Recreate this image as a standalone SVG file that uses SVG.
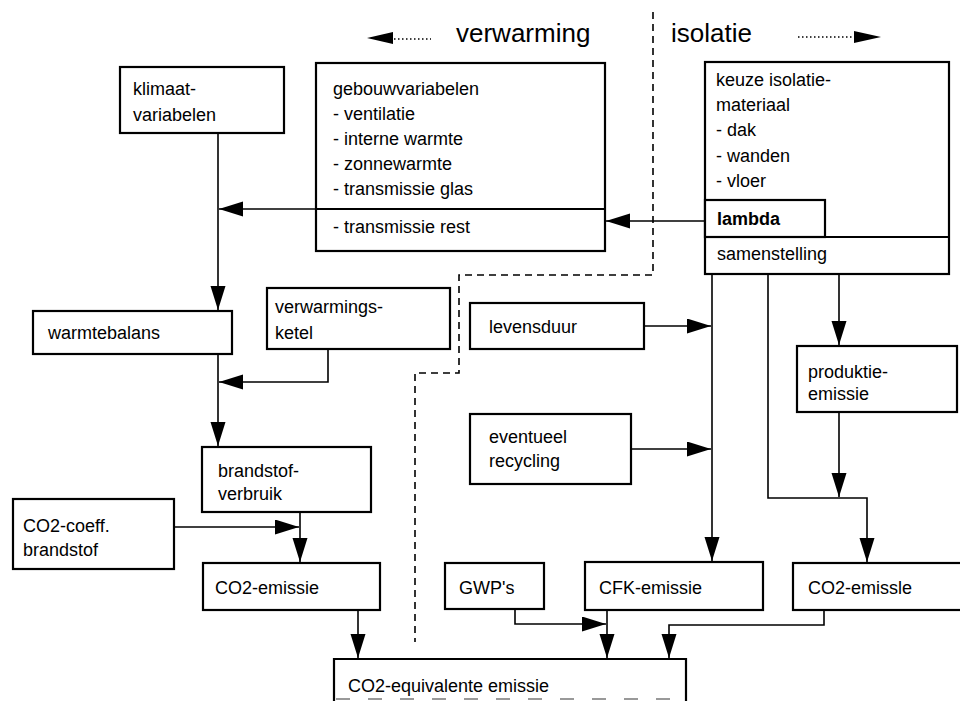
<svg xmlns="http://www.w3.org/2000/svg" width="960" height="701" viewBox="0 0 960 701">
<style>
.box{fill:#fff;stroke:#000;stroke-width:2.2}
.t{font-family:"Liberation Sans",Arial,sans-serif;font-size:18px;fill:#000}
.b{font-weight:bold}
.title{font-family:"Liberation Sans",Arial,sans-serif;font-size:26px;fill:#000}
.c{fill:none;stroke:#000;stroke-width:1.6}
.dash{fill:none;stroke:#000;stroke-width:1.6;stroke-dasharray:7 5}
.dots{fill:none;stroke:#000;stroke-width:1.5;stroke-dasharray:1.5 2.5}
</style>
<defs>
<marker id="ah" markerUnits="userSpaceOnUse" markerWidth="26" markerHeight="16" refX="24" refY="7.5" orient="auto">
<path d="M0,0 L24,7.5 L0,15 Z" fill="#000"/>
</marker>
</defs>
<rect width="960" height="701" fill="#fff"/>

<g id="titles">
<path d="M367,38 L393,32 L393,44 Z" fill="#000"/>
<line class="dots" x1="394" y1="39" x2="431" y2="39"/>
<text class="title" x="456" y="42">verwarming</text>
<text class="title" x="671" y="42">isolatie</text>
<line class="dots" x1="798" y1="37" x2="854" y2="37"/>
<path d="M881,37 L854,31 L854,43 Z" fill="#000"/>
</g>

<g id="divider">
<path class="dash" d="M653,12 V275 H459 V373 H415 V642"/>
</g>

<g id="klimaat">
<rect class="box" x="120" y="67" width="164" height="66"/>
<text class="t" x="133" y="95">klimaat-</text>
<text class="t" x="133" y="121">variabelen</text>
</g>

<g id="gebouw">
<rect class="box" x="316" y="63" width="289" height="188"/>
<line class="box" x1="316" y1="209" x2="605" y2="209"/>
<text class="t" x="333" y="95">gebouwvariabelen</text>
<text class="t" x="333" y="120">- ventilatie</text>
<text class="t" x="333" y="145">- interne warmte</text>
<text class="t" x="333" y="170">- zonnewarmte</text>
<text class="t" x="333" y="195">- transmissie glas</text>
<text class="t" x="333" y="233">- transmissie rest</text>
</g>

<g id="keuze">
<rect class="box" x="705" y="62" width="244" height="212"/>
<rect class="box" x="705" y="200" width="120" height="37"/>
<line class="box" x1="705" y1="237" x2="949" y2="237"/>
<text class="t" x="716" y="86">keuze isolatie-</text>
<text class="t" x="716" y="111">materiaal</text>
<text class="t" x="716" y="136">- dak</text>
<text class="t" x="716" y="162">- wanden</text>
<text class="t" x="716" y="187">- vloer</text>
<text class="t b" x="717" y="225">lambda</text>
<text class="t" x="717" y="260">samenstelling</text>
</g>

<g id="warmtebalans">
<rect class="box" x="33" y="311" width="199" height="43"/>
<text class="t" x="48" y="339">warmtebalans</text>
</g>

<g id="ketel">
<rect class="box" x="267" y="288" width="183" height="61"/>
<text class="t" x="275" y="313">verwarmings-</text>
<text class="t" x="275" y="339">ketel</text>
</g>

<g id="brandstof">
<rect class="box" x="202" y="447" width="169" height="65"/>
<text class="t" x="218" y="477">brandstof-</text>
<text class="t" x="218" y="500">verbruik</text>
</g>

<g id="co2coeff">
<rect class="box" x="13" y="499" width="161" height="70"/>
<text class="t" x="23" y="532">CO2-coeff.</text>
<text class="t" x="23" y="556">brandstof</text>
</g>

<g id="co2left">
<rect class="box" x="203" y="563" width="177" height="47"/>
<text class="t" x="215" y="594">CO2-emissie</text>
</g>

<g id="levensduur">
<rect class="box" x="470" y="303" width="174" height="46"/>
<text class="t" x="489" y="333">levensduur</text>
</g>

<g id="eventueel">
<rect class="box" x="470" y="414" width="161" height="70"/>
<text class="t" x="489" y="443">eventueel</text>
<text class="t" x="489" y="467">recycling</text>
</g>

<g id="produktie">
<rect class="box" x="797" y="346" width="160" height="66"/>
<text class="t" x="808" y="378">produktie-</text>
<text class="t" x="808" y="400">emissie</text>
</g>

<g id="gwp">
<rect class="box" x="445" y="563" width="99" height="46"/>
<text class="t" x="459" y="594">GWP's</text>
</g>

<g id="cfk">
<rect class="box" x="585" y="562" width="178" height="48"/>
<text class="t" x="599" y="594">CFK-emissie</text>
</g>

<g id="co2right">
<rect class="box" x="793" y="563" width="175" height="47"/>
<text class="t" x="808" y="594">CO2-emissle</text>
</g>

<g id="co2equiv">
<path class="box" d="M334,705 V659 H686 V705" fill="#fff"/>
<text class="t" x="348" y="692">CO2-equivalente emissie</text>
<line x1="336" y1="699" x2="686" y2="699" stroke="#999" stroke-width="2" stroke-dasharray="14 18"/>
</g>

<g id="connectors">
<path class="c" d="M705,221 H606" marker-end="url(#ah)"/>
<path class="c" d="M316,209 H219" marker-end="url(#ah)"/>
<path class="c" d="M218,133 V310" marker-end="url(#ah)"/>
<path class="c" d="M218,354 V446" marker-end="url(#ah)"/>
<path class="c" d="M328,349 V382 H219" marker-end="url(#ah)"/>
<path class="c" d="M174,527 H299" marker-end="url(#ah)"/>
<path class="c" d="M300,512 V562" marker-end="url(#ah)"/>
<path class="c" d="M358,610 V658" marker-end="url(#ah)"/>
<path class="c" d="M712,274 V561" marker-end="url(#ah)"/>
<path class="c" d="M644,326 H711" marker-end="url(#ah)"/>
<path class="c" d="M631,449 H711" marker-end="url(#ah)"/>
<path class="c" d="M768,274 V498 H867 V562" marker-end="url(#ah)"/>
<path class="c" d="M839,274 V345" marker-end="url(#ah)"/>
<path class="c" d="M839,412 V497" marker-end="url(#ah)"/>
<path class="c" d="M515,609 V624 H606" marker-end="url(#ah)"/>
<path class="c" d="M607,610 V658" marker-end="url(#ah)"/>
<path class="c" d="M824,610 V625 H669 V658" marker-end="url(#ah)"/>
</g>
</svg>
